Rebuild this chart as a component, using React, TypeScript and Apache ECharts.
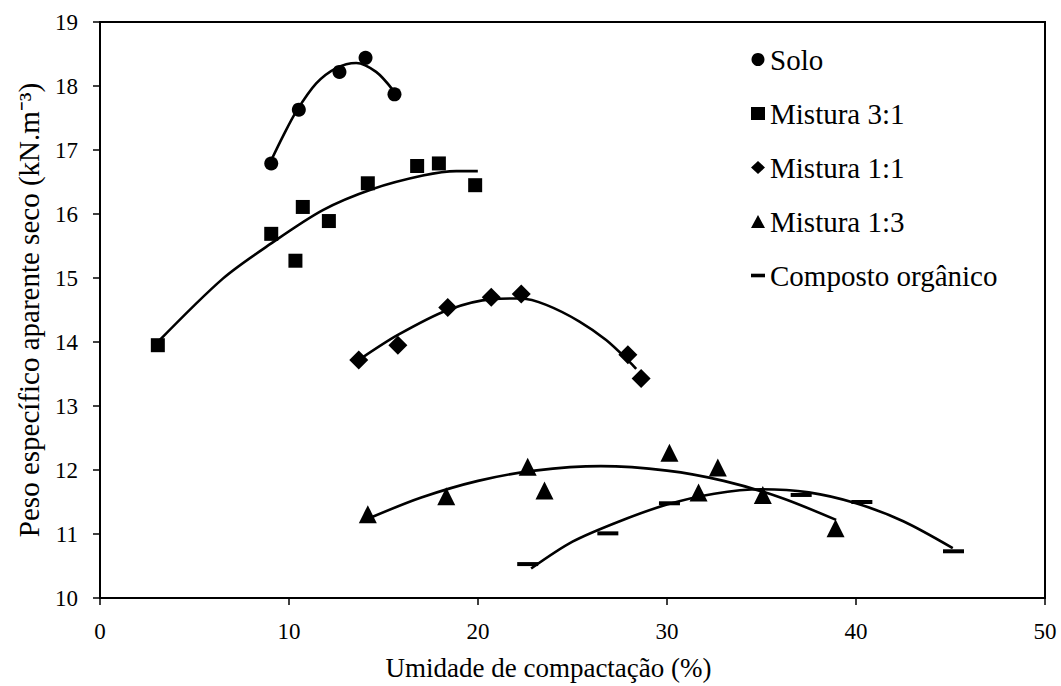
import React, { useEffect, useRef } from "react";
import * as echarts from "echarts";

// Measured points: [umidade (%), peso específico (kN/m³)]
const solo: number[][] = [[9.06, 16.79], [10.52, 17.63], [12.67, 18.22], [14.05, 18.44], [15.58, 17.87]];
const mistura31: number[][] = [[3.06, 13.95], [9.06, 15.69], [10.34, 15.27], [10.73, 16.11], [12.11, 15.89], [14.17, 16.48], [16.78, 16.75], [17.93, 16.79], [19.85, 16.45]];
const mistura11: number[][] = [[13.69, 13.72], [15.76, 13.95], [18.4, 14.54], [20.7, 14.7], [22.29, 14.75], [27.93, 13.8], [28.63, 13.43]];
const mistura13: number[][] = [[14.17, 11.31], [18.32, 11.59], [22.63, 12.05], [23.52, 11.68], [30.13, 12.27], [31.67, 11.65], [32.69, 12.04], [35.07, 11.61], [38.92, 11.09]];
const composto: number[][] = [[22.63, 10.53], [26.87, 11.01], [30.13, 11.48], [37.1, 11.61], [40.31, 11.5], [45.16, 10.73]];

// Compaction curves (trend lines) for each material
const soloCurve: number[][] = [[9.06, 16.84], [9.67, 17.21], [10.38, 17.6], [11.44, 18.04], [12.5, 18.28], [13.56, 18.36], [14.61, 18.22], [15.49, 17.94]];
const mistura31Curve: number[][] = [[3.06, 14.0], [6.5, 14.99], [9.06, 15.54], [11.79, 16.06], [14.43, 16.39], [17.08, 16.6], [18.85, 16.67], [19.99, 16.67]];
const mistura11Curve: number[][] = [[13.8, 13.74], [15.76, 14.11], [18.4, 14.5], [20.78, 14.67], [22.29, 14.68], [23.61, 14.58], [25.37, 14.32], [26.78, 14.03], [28.02, 13.69], [28.37, 13.58]];
const mistura13Curve: number[][] = [[14.43, 11.27], [17.0, 11.57], [20.0, 11.83], [23.0, 11.99], [26.5, 12.06], [30.0, 11.99], [33.0, 11.83], [36.0, 11.57], [38.95, 11.22]];
const compostoCurve: number[][] = [[22.81, 10.46], [25.0, 10.88], [27.5, 11.2], [30.0, 11.46], [32.5, 11.63], [35.0, 11.7], [37.5, 11.65], [40.0, 11.48], [42.5, 11.2], [45.12, 10.78]];

const xTicks = { min: 0, max: 50, interval: 10 };
const yTicks = { min: 10, max: 19, interval: 1 };

const FONT = "Liberation Serif, Times New Roman, Times, serif";
const DASH_ICON = "path://M0,0 L14,0 L14,3.6 L0,3.6 Z";

export default function App() {
  const ref = useRef<HTMLDivElement>(null);

  useEffect(() => {
    if (!ref.current) return;
    const chart = echarts.init(ref.current, undefined, { renderer: "svg" });

    const scatter = (name: string, data: number[][], symbol: string, size: any) => ({
      name,
      type: "scatter",
      data,
      symbol,
      symbolSize: size,
      itemStyle: { color: "#000", opacity: 1 },
      z: 3,
    });
    const curve = (name: string, data: number[][]) => ({
      name,
      type: "line",
      data,
      smooth: 0.3,
      showSymbol: false,
      symbol: "none",
      lineStyle: { color: "#000", width: 2.6 },
      z: 2,
      silent: true,
    });

    chart.setOption({
      animation: false,
      backgroundColor: "#fff",
      textStyle: { fontFamily: FONT, color: "#000" },
      grid: {
        left: 100,
        right: 16,
        top: 22,
        bottom: 88,
        show: true,
        borderColor: "#000",
        borderWidth: 2,
      },
      legend: {
        orient: "vertical",
        left: 746,
        top: 40,
        itemWidth: 14,
        itemHeight: 13,
        itemGap: 25,
        textStyle: { fontFamily: FONT, fontSize: 29, color: "#000", lineHeight: 29 },
        data: [
          { name: "Solo", icon: "circle" },
          { name: "Mistura 3:1", icon: "rect" },
          { name: "Mistura 1:1", icon: "diamond" },
          { name: "Mistura 1:3", icon: "triangle" },
          { name: "Composto orgânico", icon: DASH_ICON },
        ],
      },
      xAxis: {
        type: "value",
        min: xTicks.min,
        max: xTicks.max,
        interval: xTicks.interval,
        name: "Umidade de compactação (%)",
        nameLocation: "middle",
        nameGap: 56,
        nameTextStyle: { fontFamily: FONT, fontSize: 27, color: "#000", padding: [0, 48, 0, 0] },
        axisLine: { show: true, lineStyle: { color: "#000", width: 2 } },
        axisTick: { show: true, length: 7, lineStyle: { color: "#000", width: 1.5 } },
        axisLabel: { fontFamily: FONT, fontSize: 23, color: "#000", margin: 22 },
        splitLine: { show: false },
      },
      yAxis: {
        type: "value",
        min: yTicks.min,
        max: yTicks.max,
        interval: yTicks.interval,
        name: "Peso específico aparente seco (kN.m⁻³)",
        nameLocation: "middle",
        nameGap: 57,
        nameTextStyle: { fontFamily: FONT, fontSize: 29, color: "#000" },
        axisLine: { show: true, lineStyle: { color: "#000", width: 2 } },
        axisTick: { show: true, length: 7, lineStyle: { color: "#000", width: 1.5 } },
        axisLabel: { fontFamily: FONT, fontSize: 23, color: "#000", margin: 22 },
        splitLine: { show: false },
      },
      series: [
        scatter("Solo", solo, "circle", 14),
        scatter("Mistura 3:1", mistura31, "rect", 14),
        scatter("Mistura 1:1", mistura11, "diamond", 19),
        scatter("Mistura 1:3", mistura13, "triangle", 18),
        scatter("Composto orgânico", composto, "rect", [21, 4]),
        curve("Solo (curva)", soloCurve),
        curve("Mistura 3:1 (curva)", mistura31Curve),
        curve("Mistura 1:1 (curva)", mistura11Curve),
        curve("Mistura 1:3 (curva)", mistura13Curve),
        curve("Composto orgânico (curva)", compostoCurve),
      ],
    });

    return () => chart.dispose();
  }, []);

  return (
    <div
      ref={ref}
      style={{ position: "fixed", left: 0, top: 0, width: 1061, height: 686, background: "#fff" }}
    />
  );
}
